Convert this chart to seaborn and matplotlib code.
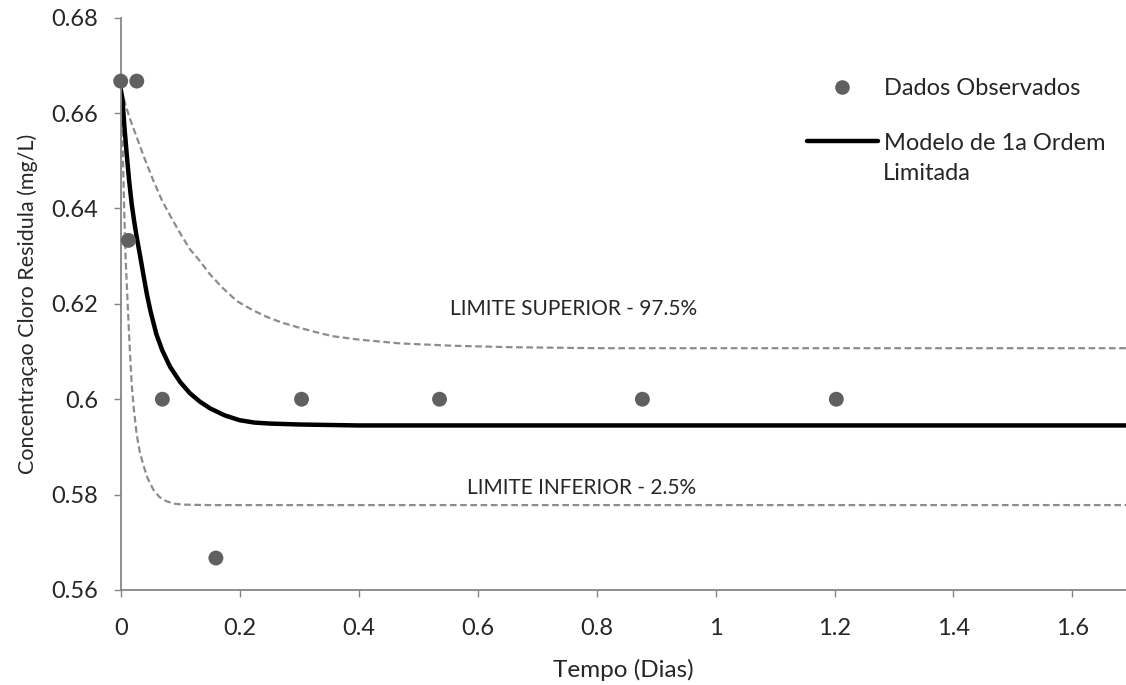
import matplotlib
matplotlib.use('Agg')
import matplotlib.pyplot as plt
import seaborn as sns
from matplotlib.lines import Line2D

# Style close to the Excel original
sns.set_style('white')
plt.rcParams['font.family'] = ['Lato', 'DejaVu Sans']
plt.rcParams['lines.dashed_pattern'] = [3, 1.6]

# ---- data ----
obs_tempo = [0.0, 0.027, 0.013, 0.070, 0.160, 0.304, 0.536, 0.877, 1.203]
obs_conc = [0.6667, 0.6667, 0.6333, 0.6000, 0.5667, 0.6000, 0.6000, 0.6000, 0.6000]

modelo_tempo = [0.000, 0.003, 0.006, 0.010, 0.014, 0.0185, 0.023, 0.027, 0.032, 0.038,
                0.044, 0.050, 0.060, 0.070, 0.083, 0.100, 0.116, 0.133, 0.150, 0.175,
                0.200, 0.225, 0.250, 0.300, 0.400, 1.690]
modelo_conc = [0.6650, 0.6630, 0.6575, 0.6515, 0.6460, 0.6409, 0.6370, 0.6339, 0.6305, 0.6262,
               0.6220, 0.6185, 0.6136, 0.6102, 0.6068, 0.6036, 0.6013, 0.5995, 0.5981, 0.5966,
               0.5956, 0.5951, 0.5949, 0.5947, 0.5945, 0.5945]

sup_tempo = [0.000, 0.004, 0.015, 0.027, 0.040, 0.055, 0.070, 0.088, 0.100, 0.116,
             0.133, 0.150, 0.170, 0.195, 0.220, 0.245, 0.270, 0.300, 0.330, 0.357,
             0.400, 0.470, 0.560, 0.660, 0.800, 1.690]
sup_conc = [0.6650, 0.6634, 0.6590, 0.6549, 0.6505, 0.6458, 0.6415, 0.6374, 0.6348, 0.6315,
            0.6290, 0.6262, 0.6235, 0.6206, 0.6188, 0.6173, 0.6161, 0.6150, 0.6140, 0.6132,
            0.6125, 0.6117, 0.6112, 0.6109, 0.6107, 0.6107]

inf_tempo = [0.000, 0.002, 0.003, 0.0056, 0.0084, 0.0128, 0.0155, 0.0185, 0.022, 0.027,
             0.032, 0.038, 0.045, 0.055, 0.065, 0.077, 0.090, 0.105, 0.150, 1.690]
inf_conc = [0.6650, 0.6585, 0.6549, 0.6409, 0.6290, 0.6171, 0.6100, 0.6030, 0.5980, 0.5925,
            0.5890, 0.5862, 0.5835, 0.5810, 0.5795, 0.5786, 0.5781, 0.5779, 0.5778, 0.5778]

x_ticks = [0, 0.2, 0.4, 0.6, 0.8, 1.0, 1.2, 1.4, 1.6]
x_tick_labels = ['0', '0.2', '0.4', '0.6', '0.8', '1', '1.2', '1.4', '1.6']
y_ticks = [0.56, 0.58, 0.60, 0.62, 0.64, 0.66, 0.68]
y_tick_labels = ['0.56', '0.58', '0.6', '0.62', '0.64', '0.66', '0.68']

grey_axis = '#868686'
grey_dash = '#8c8c8c'
grey_dot = '#606060'

fig = plt.figure(figsize=(11.26, 6.85), dpi=100)
ax = fig.add_axes([0.1072, 0.1387, 0.8928, 0.8355])

# confidence limits (dashed)
sns.lineplot(x=sup_tempo, y=sup_conc, sort=False, estimator=None, ax=ax,
             color=grey_dash, linewidth=1.6, linestyle='--')
sns.lineplot(x=inf_tempo, y=inf_conc, sort=False, estimator=None, ax=ax,
             color=grey_dash, linewidth=1.6, linestyle='--')
# model
sns.lineplot(x=modelo_tempo, y=modelo_conc, sort=False, estimator=None, ax=ax,
             color='black', linewidth=3.2)
# observed data
sns.scatterplot(x=obs_tempo, y=obs_conc, ax=ax, s=115, color=grey_dot,
                edgecolor='none', clip_on=False, zorder=5)

ax.set_xlim(0, 1.69)
ax.set_ylim(0.56, 0.68)
ax.set_xticks(x_ticks)
ax.set_xticklabels(x_tick_labels)
ax.set_yticks(y_ticks)
ax.set_yticklabels(y_tick_labels)
ax.tick_params(axis='both', direction='out', length=5, width=1, color=grey_axis,
               labelsize=17, bottom=True, left=True)
ax.tick_params(axis='x', pad=15)
ax.tick_params(axis='y', pad=11)

for side in ['top', 'right']:
    ax.spines[side].set_visible(False)
for side in ['left', 'bottom']:
    ax.spines[side].set_color(grey_axis)
    ax.spines[side].set_linewidth(1.3)

ax.set_xlabel('Tempo (Dias)', fontsize=17.5, va='center')
ax.xaxis.set_label_coords(0.5, -0.140)
ax.set_ylabel('Concentraçao Cloro Residula (mg/L)', fontsize=15.5, va='center')
ax.yaxis.set_label_coords(-0.093, 0.5)

# annotations for the limits
ax.text(0.5534, 0.6189, 'LIMITE SUPERIOR - 97.5%', fontsize=15, va='center', ha='left')
ax.text(0.582, 0.5814, 'LIMITE INFERIOR - 2.5%', fontsize=15, va='center', ha='left')

# legend
handles = [Line2D([], [], linestyle='none', marker='o', markersize=10.5,
                  markerfacecolor=grey_dot, markeredgecolor='none'),
           Line2D([], [], color='black', linewidth=3.2)]
labels = ['Dados Observados', 'Modelo de 1a Ordem']
fig.legend(handles, labels, loc='upper left', bbox_to_anchor=(807 / 1126, 1 - 78 / 685),
           frameon=False, fontsize=17, handlelength=3.0, handletextpad=0.27,
           labelspacing=1.42, borderpad=0, borderaxespad=0)
fig.text(883 / 1126, 1 - 174 / 685, 'Limitada', fontsize=17, va='center', ha='left')

plt.savefig('out.png', dpi=100)
